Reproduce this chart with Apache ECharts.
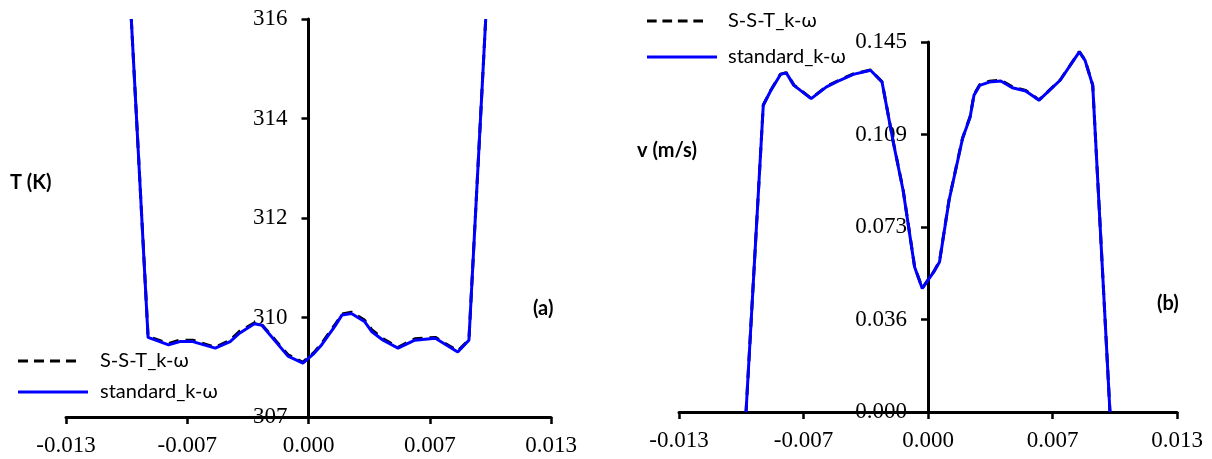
<!DOCTYPE html>
<html><head><meta charset="utf-8">
<script src="https://cdn.jsdelivr.net/npm/echarts@6/dist/echarts.min.js"></script>
<style>html,body{margin:0;padding:0;background:#fff}#c{width:1212px;height:459px}</style>
</head><body><div id="c"></div>
<script>
// Panel (a): temperature
const xT = [-0.0095, -0.0086, -0.0075, -0.0069, -0.0062, -0.0050, -0.0042, -0.0037, -0.0029, -0.0025, -0.0011, -0.0003, 0.0003, 0.0007, 0.0014, 0.0018, 0.0023, 0.0024, 0.0030, 0.0034, 0.0040, 0.0048, 0.0057, 0.0068, 0.0080, 0.0086, 0.0095];
const tStd = [316.0, 309.20, 309.04, 309.11, 309.11, 308.97, 309.11, 309.29, 309.49, 309.46, 308.80, 308.65, 308.86, 309.04, 309.43, 309.68, 309.71, 309.75, 309.54, 309.32, 309.14, 308.97, 309.14, 309.18, 308.89, 309.14, 316.0];
const tSST = [316.0, 309.22, 309.07, 309.14, 309.14, 308.99, 309.14, 309.33, 309.51, 309.47, 308.83, 308.67, 308.88, 309.07, 309.46, 309.70, 309.74, 309.77, 309.57, 309.36, 309.17, 308.99, 309.17, 309.20, 308.91, 309.15, 316.0];
// Panel (b): velocity
const xV = [-0.0095, -0.0086, -0.0082, -0.0077, -0.0074, -0.0070, -0.0061, -0.0053, -0.0046, -0.0039, -0.0030, -0.0024, -0.0018, -0.0013, -0.0007, -0.0003, 0.0003, 0.0006, 0.0011, 0.0018, 0.0022, 0.0024, 0.0027, 0.0032, 0.0038, 0.0044, 0.0051, 0.0058, 0.0069, 0.0079, 0.0082, 0.0086, 0.0095];
const vStd = [0, 0.1202, 0.1261, 0.1323, 0.1329, 0.1280, 0.1228, 0.1274, 0.1300, 0.1323, 0.1339, 0.1293, 0.1052, 0.0869, 0.0568, 0.0484, 0.0549, 0.0588, 0.0830, 0.1071, 0.1156, 0.1241, 0.1280, 0.1293, 0.1297, 0.1271, 0.1258, 0.1222, 0.1300, 0.1411, 0.1378, 0.1280, 0];
const vSST = [0, 0.1203, 0.1262, 0.1324, 0.1330, 0.1281, 0.1229, 0.1276, 0.1302, 0.1325, 0.1340, 0.1294, 0.1054, 0.0871, 0.0570, 0.0485, 0.0550, 0.0590, 0.0832, 0.1073, 0.1158, 0.1243, 0.1283, 0.1296, 0.1300, 0.1274, 0.1260, 0.1223, 0.1301, 0.1412, 0.1379, 0.1281, 0];
const nameSST = 'S-S-T_k-ω';
const nameStd = 'standard_k-ω';

const pair = (xs, ys) => xs.map((x, i) => [x, ys[i]]);
const fmt3 = v => { const s = v < 0 ? -1 : 1; const r = Math.round(Math.abs(v) * 1000 + 1e-6); return r === 0 ? '0.000' : (s * r / 1000).toFixed(3); };
const serif = '"Liberation Serif", "Times New Roman", serif';
const sans = 'Lato, "Open Sans", "Noto Sans", sans-serif';
const axisLine = { show: true, onZero: false, lineStyle: { color: '#000', width: 3 } };
const axisTick = { show: true, length: 7, lineStyle: { color: '#000', width: 2.5 } };
const lab = (m) => ({ fontFamily: serif, fontSize: 23, color: '#000', margin: m });

// grid geometry (pixels)
const G = [
  { left: 66, right: 661, top: 19, bottom: 42 },
  { left: 679, right: 35, top: 42, bottom: 47 }
];
const W = 1212;
// y axis sits at x = 0 (centre of symmetric x range)
const yOff = G.map(g => -((W - g.left - g.right) / 2));

const xAxisBase = (gi) => ({
  type: 'value', gridIndex: gi, min: -0.013, max: 0.013, interval: 0.0065,
  axisLine, axisTick, splitLine: { show: false },
  axisLabel: Object.assign(lab(17), { formatter: fmt3 })
});

// legend sample icons: dashed bar and solid bar
const dashIcon = 'path://M0,0h10v3h-10z M16,0h10v3h-10z M32,0h10v3h-10z M48,0h10v3h-10z';
const lt = (pad) => ({ fontFamily: sans, fontSize: 20, color: '#000', padding: [0, 0, 0, pad] });

const chart = echarts.init(document.getElementById('c'));
chart.setOption({
  backgroundColor: '#fff',
  animation: false,
  grid: G.map(g => Object.assign({ outerBoundsMode: 'none' }, g)),
  xAxis: [xAxisBase(0), xAxisBase(1)],
  yAxis: [
    { type: 'value', gridIndex: 0, min: 307.5, max: 316, interval: 2.125, offset: yOff[0],
      axisLine, axisTick, splitLine: { show: false },
      axisLabel: Object.assign(lab(21), { formatter: v => String(Math.round(v - 0.1)) }) },
    { type: 'value', gridIndex: 1, min: 0, max: 0.145, interval: 0.03625, offset: yOff[1],
      axisLine, axisTick, splitLine: { show: false },
      axisLabel: Object.assign(lab(21), { formatter: fmt3 }) }
  ],
  legend: [
    { data: [nameSST], left: 18, top: 351, padding: 0, icon: dashIcon, itemWidth: 58, itemHeight: 3, textStyle: lt(19) },
    { data: [nameStd], left: 18, top: 382, padding: 0, icon: 'rect', itemWidth: 70, itemHeight: 3, textStyle: lt(7) },
    { data: [nameSST], left: 647, top: 11, padding: 0, icon: dashIcon, itemWidth: 56, itemHeight: 3, textStyle: lt(20) },
    { data: [nameStd], left: 647, top: 47, padding: 0, icon: 'rect', itemWidth: 70, itemHeight: 3, textStyle: lt(6) }
  ],
  series: [
    { name: nameSST, type: 'line', xAxisIndex: 0, yAxisIndex: 0, data: pair(xT, tSST), symbol: 'none',
      lineStyle: { color: '#000', width: 3, type: [10, 7] }, itemStyle: { color: '#000' } },
    { name: nameStd, type: 'line', xAxisIndex: 0, yAxisIndex: 0, data: pair(xT, tStd), symbol: 'none',
      lineStyle: { color: '#0000ff', width: 3 }, itemStyle: { color: '#0000ff' } },
    { name: nameSST, type: 'line', xAxisIndex: 1, yAxisIndex: 1, data: pair(xV, vSST), symbol: 'none',
      lineStyle: { color: '#000', width: 3, type: [10, 7] }, itemStyle: { color: '#000' } },
    { name: nameStd, type: 'line', xAxisIndex: 1, yAxisIndex: 1, data: pair(xV, vStd), symbol: 'none',
      lineStyle: { color: '#0000ff', width: 3 }, itemStyle: { color: '#0000ff' } }
  ],
  graphic: [
    { type: 'text', left: 10, top: 173, style: { text: 'T (K)', font: 'bold 20px ' + sans, fill: '#000' } },
    { type: 'text', left: 533, top: 299, style: { text: '(a)', font: 'bold 20px ' + sans, fill: '#000' } },
    { type: 'text', left: 637, top: 141, style: { text: 'v (m/s)', font: 'bold 20px ' + sans, fill: '#000' } },
    { type: 'text', left: 1157, top: 294, style: { text: '(b)', font: 'bold 20px ' + sans, fill: '#000' } }
  ]
});
</script></body></html>
